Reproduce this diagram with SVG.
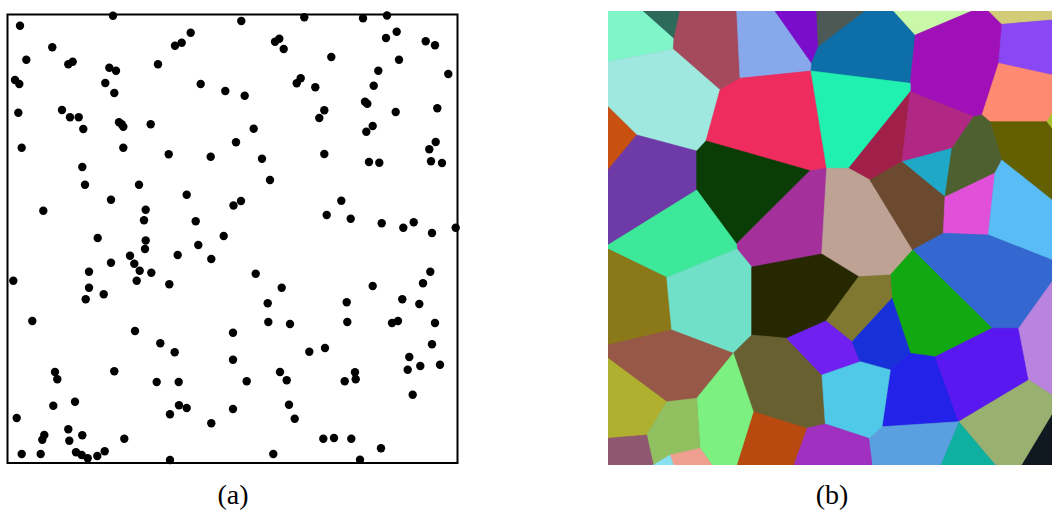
<svg xmlns="http://www.w3.org/2000/svg" width="1052" height="517" viewBox="0 0 1052 517">
<style>
.d{fill:#000}
.c{fill:currentColor;stroke:currentColor;stroke-width:0.6;stroke-linejoin:round}
.lbl{font-family:"Liberation Serif","Times New Roman",serif;font-size:28px;fill:#000;text-anchor:middle}
</style>
<defs>
<clipPath id="pb"><rect x="608" y="11" width="444" height="454"/></clipPath>
</defs>
<rect width="1052" height="517" fill="#fff"/>
<g id="panel-a">
<rect x="7.5" y="14.5" width="450" height="448.5" fill="#fff" stroke="#000" stroke-width="2"/>
<g id="dots">
<circle class="d" r="4.2" cx="20" cy="25.7"/><circle class="d" r="4.2" cx="113" cy="15.7"/><circle class="d" r="4.2" cx="190.7" cy="32.7"/><circle class="d" r="4.2" cx="181.7" cy="42.7"/><circle class="d" r="4.2" cx="175" cy="45.7"/><circle class="d" r="4.2" cx="52.3" cy="47.3"/><circle class="d" r="4.2" cx="26.3" cy="59.7"/><circle class="d" r="4.2" cx="68.3" cy="64.3"/><circle class="d" r="4.2" cx="72.7" cy="61.7"/><circle class="d" r="4.2" cx="109.3" cy="67.7"/><circle class="d" r="4.2" cx="116" cy="70.7"/><circle class="d" r="4.2" cx="158" cy="64.3"/><circle class="d" r="4.2" cx="15" cy="80"/><circle class="d" r="4.2" cx="19.3" cy="84"/><circle class="d" r="4.2" cx="105.3" cy="83"/><circle class="d" r="4.2" cx="114.3" cy="93"/><circle class="d" r="4.2" cx="200.7" cy="84"/><circle class="d" r="4.2" cx="225.3" cy="91"/><circle class="d" r="4.2" cx="18.3" cy="112.7"/><circle class="d" r="4.2" cx="62" cy="110"/><circle class="d" r="4.2" cx="70" cy="117.3"/><circle class="d" r="4.2" cx="78.7" cy="117.3"/><circle class="d" r="4.2" cx="83.3" cy="129"/><circle class="d" r="4.2" cx="119" cy="122.3"/><circle class="d" r="4.2" cx="121.7" cy="124.3"/><circle class="d" r="4.2" cx="123.3" cy="126.7"/><circle class="d" r="4.2" cx="150.7" cy="124.3"/><circle class="d" r="4.2" cx="21.7" cy="147.7"/><circle class="d" r="4.2" cx="123.3" cy="147.7"/><circle class="d" r="4.2" cx="168.7" cy="154.3"/><circle class="d" r="4.2" cx="210.7" cy="156.7"/><circle class="d" r="4.2" cx="236" cy="142.2"/><circle class="d" r="4.2" cx="82.3" cy="167"/><circle class="d" r="4.2" cx="85" cy="184.7"/><circle class="d" r="4.2" cx="139" cy="184.7"/><circle class="d" r="4.2" cx="111" cy="199.7"/><circle class="d" r="4.2" cx="186.7" cy="194.7"/><circle class="d" r="4.2" cx="233.5" cy="205.5"/><circle class="d" r="4.2" cx="43.3" cy="210.7"/><circle class="d" r="4.2" cx="145.7" cy="209.7"/><circle class="d" r="4.2" cx="144" cy="220.3"/><circle class="d" r="4.2" cx="195.7" cy="221.3"/><circle class="d" r="4.2" cx="223.7" cy="236"/><circle class="d" r="4.2" cx="97.7" cy="238"/><circle class="d" r="4.2" cx="145.7" cy="240.5"/>
<circle class="d" r="4.2" cx="241.3" cy="21"/><circle class="d" r="4.2" cx="304.3" cy="17.3"/><circle class="d" r="4.2" cx="363" cy="18.3"/><circle class="d" r="4.2" cx="387" cy="15.5"/><circle class="d" r="4.2" cx="396.7" cy="31.7"/><circle class="d" r="4.2" cx="386" cy="38"/><circle class="d" r="4.2" cx="425.7" cy="41.3"/><circle class="d" r="4.2" cx="435" cy="45.3"/><circle class="d" r="4.2" cx="275" cy="41.7"/><circle class="d" r="4.2" cx="279.3" cy="38.7"/><circle class="d" r="4.2" cx="283.7" cy="49"/><circle class="d" r="4.2" cx="331.3" cy="57"/><circle class="d" r="4.2" cx="399" cy="59.7"/><circle class="d" r="4.2" cx="378.3" cy="70.7"/><circle class="d" r="4.2" cx="448.3" cy="74"/><circle class="d" r="4.2" cx="296.7" cy="83.3"/><circle class="d" r="4.2" cx="300.7" cy="78.3"/><circle class="d" r="4.2" cx="315.3" cy="87.3"/><circle class="d" r="4.2" cx="373.7" cy="85.7"/><circle class="d" r="4.2" cx="244.7" cy="95.7"/><circle class="d" r="4.2" cx="365" cy="101.7"/><circle class="d" r="4.2" cx="367.3" cy="103.7"/><circle class="d" r="4.2" cx="324.3" cy="110.3"/><circle class="d" r="4.2" cx="319.3" cy="118"/><circle class="d" r="4.2" cx="395.7" cy="112"/><circle class="d" r="4.2" cx="437.3" cy="108.3"/><circle class="d" r="4.2" cx="253.7" cy="128.7"/><circle class="d" r="4.2" cx="372.7" cy="126"/><circle class="d" r="4.2" cx="366.3" cy="131.7"/><circle class="d" r="4.2" cx="435.7" cy="142"/><circle class="d" r="4.2" cx="429.3" cy="149.3"/><circle class="d" r="4.2" cx="262" cy="158.7"/><circle class="d" r="4.2" cx="324.3" cy="154"/><circle class="d" r="4.2" cx="369" cy="162"/><circle class="d" r="4.2" cx="379.3" cy="162.7"/><circle class="d" r="4.2" cx="431" cy="161.3"/><circle class="d" r="4.2" cx="442" cy="163"/><circle class="d" r="4.2" cx="270" cy="180"/><circle class="d" r="4.2" cx="241" cy="201"/><circle class="d" r="4.2" cx="341.3" cy="200.7"/><circle class="d" r="4.2" cx="326.7" cy="215"/><circle class="d" r="4.2" cx="350.7" cy="218.7"/><circle class="d" r="4.2" cx="381.7" cy="223.3"/><circle class="d" r="4.2" cx="403.3" cy="227.7"/><circle class="d" r="4.2" cx="413.7" cy="222.3"/><circle class="d" r="4.2" cx="432" cy="233"/><circle class="d" r="4.2" cx="455.7" cy="227.7"/>
<circle class="d" r="4.2" cx="145" cy="249"/><circle class="d" r="4.2" cx="198.3" cy="245"/><circle class="d" r="4.2" cx="111" cy="262.7"/><circle class="d" r="4.2" cx="130" cy="255.7"/><circle class="d" r="4.2" cx="134.3" cy="263.7"/><circle class="d" r="4.2" cx="139.7" cy="270.7"/><circle class="d" r="4.2" cx="177.7" cy="255"/><circle class="d" r="4.2" cx="211.3" cy="259"/><circle class="d" r="4.2" cx="89" cy="271.7"/><circle class="d" r="4.2" cx="13.3" cy="280.7"/><circle class="d" r="4.2" cx="136.7" cy="280.7"/><circle class="d" r="4.2" cx="151.3" cy="272.7"/><circle class="d" r="4.2" cx="169.3" cy="284.3"/><circle class="d" r="4.2" cx="89" cy="287.7"/><circle class="d" r="4.2" cx="103.7" cy="294.3"/><circle class="d" r="4.2" cx="85.7" cy="299.3"/><circle class="d" r="4.2" cx="32.3" cy="321"/><circle class="d" r="4.2" cx="135" cy="331"/><circle class="d" r="4.2" cx="233" cy="332.7"/><circle class="d" r="4.2" cx="160.3" cy="343.3"/><circle class="d" r="4.2" cx="174.7" cy="352.3"/><circle class="d" r="4.2" cx="233" cy="359.7"/><circle class="d" r="4.2" cx="114.3" cy="371.3"/><circle class="d" r="4.2" cx="55" cy="372"/><circle class="d" r="4.2" cx="57.3" cy="379.3"/><circle class="d" r="4.2" cx="156.7" cy="382"/><circle class="d" r="4.2" cx="178.7" cy="382"/><circle class="d" r="4.2" cx="53.3" cy="405.7"/><circle class="d" r="4.2" cx="75" cy="401.7"/><circle class="d" r="4.2" cx="179" cy="405.3"/><circle class="d" r="4.2" cx="186.7" cy="408"/><circle class="d" r="4.2" cx="170" cy="414.3"/><circle class="d" r="4.2" cx="233" cy="409"/><circle class="d" r="4.2" cx="16.7" cy="418"/><circle class="d" r="4.2" cx="211.3" cy="423.3"/><circle class="d" r="4.2" cx="68.3" cy="429.3"/><circle class="d" r="4.2" cx="69.3" cy="440.7"/><circle class="d" r="4.2" cx="82.3" cy="435.3"/><circle class="d" r="4.2" cx="44.3" cy="435"/><circle class="d" r="4.2" cx="42.3" cy="439.7"/><circle class="d" r="4.2" cx="124.3" cy="438.7"/><circle class="d" r="4.2" cx="21.7" cy="454"/><circle class="d" r="4.2" cx="40.7" cy="454"/><circle class="d" r="4.2" cx="76" cy="452.3"/><circle class="d" r="4.2" cx="81.7" cy="455"/><circle class="d" r="4.2" cx="87.7" cy="458.3"/><circle class="d" r="4.2" cx="97.3" cy="456"/><circle class="d" r="4.2" cx="104.7" cy="451.3"/><circle class="d" r="4.2" cx="170" cy="460"/>
<circle class="d" r="4.2" cx="255.7" cy="273.7"/><circle class="d" r="4.2" cx="281.7" cy="287.7"/><circle class="d" r="4.2" cx="430.3" cy="271.7"/><circle class="d" r="4.2" cx="423" cy="283.3"/><circle class="d" r="4.2" cx="372.7" cy="286"/><circle class="d" r="4.2" cx="267.7" cy="303.3"/><circle class="d" r="4.2" cx="346.7" cy="302.3"/><circle class="d" r="4.2" cx="402.3" cy="299.3"/><circle class="d" r="4.2" cx="419.3" cy="304"/><circle class="d" r="4.2" cx="268.3" cy="322"/><circle class="d" r="4.2" cx="290" cy="324"/><circle class="d" r="4.2" cx="347.3" cy="322"/><circle class="d" r="4.2" cx="392" cy="323"/><circle class="d" r="4.2" cx="398" cy="321"/><circle class="d" r="4.2" cx="435" cy="323"/><circle class="d" r="4.2" cx="309.3" cy="351.7"/><circle class="d" r="4.2" cx="325" cy="348"/><circle class="d" r="4.2" cx="432" cy="344.3"/><circle class="d" r="4.2" cx="409.3" cy="357"/><circle class="d" r="4.2" cx="407.7" cy="369.7"/><circle class="d" r="4.2" cx="420.3" cy="366"/><circle class="d" r="4.2" cx="440" cy="364.7"/><circle class="d" r="4.2" cx="280" cy="372"/><circle class="d" r="4.2" cx="286.7" cy="380.3"/><circle class="d" r="4.2" cx="246.7" cy="381.3"/><circle class="d" r="4.2" cx="355" cy="372.3"/><circle class="d" r="4.2" cx="355.7" cy="379.3"/><circle class="d" r="4.2" cx="344.7" cy="381.3"/><circle class="d" r="4.2" cx="412.7" cy="394.7"/><circle class="d" r="4.2" cx="289" cy="404.7"/><circle class="d" r="4.2" cx="294.7" cy="418.7"/><circle class="d" r="4.2" cx="323.3" cy="438.7"/><circle class="d" r="4.2" cx="334" cy="438"/><circle class="d" r="4.2" cx="351.3" cy="438.7"/><circle class="d" r="4.2" cx="381" cy="448.3"/><circle class="d" r="4.2" cx="273.3" cy="454"/><circle class="d" r="4.2" cx="360" cy="459.7"/>
</g>
</g>
<g id="panel-b" clip-path="url(#pb)">
<rect x="608" y="11" width="444" height="454" fill="#6a6a6a"/>
<polygon class="c" color="#7ff5c9" points="608,11 643.3,11 674,38.3 673.3,49.3 608,61.7"/>
<polygon class="c" color="#2e6a5a" points="643.3,11 680,11 674,38.3"/>
<polygon class="c" color="#a44a5c" points="680,11 736.7,11 740,78.3 720,90 673.3,49.3 674,38.3"/>
<polygon class="c" color="#88a8ec" points="736.7,11 775,11 811.7,63.3 811,71 740,78.3"/>
<polygon class="c" color="#7a0ccc" points="775,11 816.7,11 818.3,46.7 811.7,63.3"/>
<polygon class="c" color="#4c5955" points="816.7,11 865.3,11 818.3,46.7"/>
<polygon class="c" color="#0d6ea8" points="818.3,46.7 865.3,11 893.7,11 915.3,35 910.3,83.3 811,71 811.7,63.3"/>
<polygon class="c" color="#c8f8a8" points="893.7,11 972,11 915.3,35"/>
<polygon class="c" color="#a010b8" points="915.3,35 972,11 988.7,11 1002,24.3 998.7,63.3 982,115 973.7,116.7 910.3,91.7 910.3,83.3"/>
<polygon class="c" color="#d2cc78" points="988.7,11 1052,11 1052,20 1002,24.3"/>
<polygon class="c" color="#8a48f4" points="1002,24.3 1052,20 1052,75 998.7,63.3"/>
<polygon class="c" color="#ff8a72" points="998.7,63.3 1052,75 1052,121.7 990,121.7 982,115"/>
<polygon class="c" color="#626000" points="990,121.7 1052,121.7 1052,200 1001.7,160"/>
<polygon class="c" color="#a8c030" points="1052,113 1052,128 1047,121.7"/>
<polygon class="c" color="#9ee8e0" points="608,61.7 673.3,49.3 720,90 706,141 696.7,151 636.7,135 608,106.7"/>
<polygon class="c" color="#c85010" points="608,106.7 636.7,135 608,170"/>
<polygon class="c" color="#ee2c5e" points="720,90 740,78.3 811,71 826.7,168.3 810,170.7 706,141"/>
<polygon class="c" color="#20f0b0" points="811,71 910.3,83.3 910.3,91.7 848.7,168.3 826.7,168.3"/>
<polygon class="c" color="#a0204a" points="910.3,91.7 902,161.7 870,180 848.7,168.3"/>
<polygon class="c" color="#b02884" points="910.3,91.7 973.7,116.7 952,148.3 902,161.7"/>
<polygon class="c" color="#20a8c8" points="902,161.7 952,148.3 945,197"/>
<polygon class="c" color="#4e6030" points="952,148.3 973.7,116.7 982,115 990,121.7 1001.7,160 995,173 945,197"/>
<polygon class="c" color="#6e3aa8" points="608,170 636.7,135 696.7,151 696.7,190 608,245"/>
<polygon class="c" color="#0a3c05" points="696.7,151 706,141 810,170.7 736.5,244 696.7,190"/>
<polygon class="c" color="#a4309c" points="810,170.7 826.7,168.3 821.7,254 751.7,267 737,249 736.5,244"/>
<polygon class="c" color="#bea294" points="826.7,168.3 848.7,168.3 870,180 912.7,250 890.3,275 858.7,276.7 821.7,254"/>
<polygon class="c" color="#6b4a30" points="870,180 902,161.7 945,197 943.3,233.3 912.7,250"/>
<polygon class="c" color="#e050d8" points="945,197 995,173 988.3,235 943.3,233.3"/>
<polygon class="c" color="#5abcf4" points="995,173 1001.7,160 1052,200 1052,260 988.3,235"/>
<polygon class="c" color="#3468d0" points="912.7,250 943.3,233.3 988.3,235 1052,260 1052,281.7 1018.7,328.3 992,328.3"/>
<polygon class="c" color="#12a812" points="890.3,275 912.7,250 992,328.3 935.3,356.7 910.3,353.3 892,298.3"/>
<polygon class="c" color="#3ee89a" points="608,245 696.7,190 736.5,244 737,249 666.7,277.5 608,249"/>
<polygon class="c" color="#8b7818" points="608,249 666.7,277.5 671.7,330 608,345"/>
<polygon class="c" color="#70e0c8" points="666.7,277.5 737,249 751.7,267 751.7,335 733.3,353.3 671.7,330"/>
<polygon class="c" color="#272800" points="751.7,267 821.7,254 858.7,276.7 826,321 786.7,338.3 751.7,335"/>
<polygon class="c" color="#807830" points="858.7,276.7 890.3,275 892,298.3 852,341.7 826,321"/>
<polygon class="c" color="#985848" points="608,345 671.7,330 733.3,353.3 696.7,398.3 666.7,401.7 608,358.3"/>
<polygon class="c" color="#b0b030" points="608,358.3 666.7,401.7 646.7,435 608,438.3"/>
<polygon class="c" color="#686030" points="733.3,353.3 751.7,335 786.7,338.3 822,375 825.3,424 806.7,428.3 753.3,411.7"/>
<polygon class="c" color="#7020f0" points="786.7,338.3 826,321 852,341.7 860.3,361.7 822,375"/>
<polygon class="c" color="#1830d8" points="852,341.7 892,298.3 910.3,353.3 890.3,370 860.3,361.7"/>
<polygon class="c" color="#2222e8" points="890.3,370 910.3,353.3 935.3,356.7 958.7,421.7 882,426.7"/>
<polygon class="c" color="#5a18f0" points="935.3,356.7 992,328.3 1018.7,328.3 1028.7,380 958.7,421.7"/>
<polygon class="c" color="#b884e0" points="1018.7,328.3 1052,281.7 1052,395 1028.7,380"/>
<polygon class="c" color="#98b070" points="958.7,421.7 1028.7,380 1052,395 1052,415 1022,465 995.3,465"/>
<polygon class="c" color="#101820" points="1052,415 1052,465 1022,465"/>
<polygon class="c" color="#10b0a0" points="958.7,421.7 995.3,465 940.3,465"/>
<polygon class="c" color="#5aa0e0" points="868.7,438.3 882,426.7 958.7,421.7 940.3,465 872,465"/>
<polygon class="c" color="#50c8e8" points="822,375 860.3,361.7 890.3,370 882,426.7 868.7,438.3 825.3,424"/>
<polygon class="c" color="#a030c0" points="806.7,428.3 825.3,424 868.7,438.3 872,465 793.3,465"/>
<polygon class="c" color="#b84a10" points="753.3,411.7 806.7,428.3 793.3,465 736.7,465"/>
<polygon class="c" color="#7cf080" points="696.7,398.3 733.3,353.3 753.3,411.7 736.7,465 712,465 700,448.3"/>
<polygon class="c" color="#90c060" points="666.7,401.7 696.7,398.3 700,448.3 670,455 653.3,465 646.7,435"/>
<polygon class="c" color="#905870" points="608,438.3 646.7,435 653.3,465 608,465"/>
<polygon class="c" color="#f0a090" points="670,455 700,448.3 712,465 673.3,465"/>
<polygon class="c" color="#88e0f0" points="653.3,465 670,455 673.3,465"/>
</g>
<g id="labels">
<text class="lbl" x="233" y="504">(a)</text>
<text class="lbl" x="832" y="504">(b)</text>
</g>
</svg>
